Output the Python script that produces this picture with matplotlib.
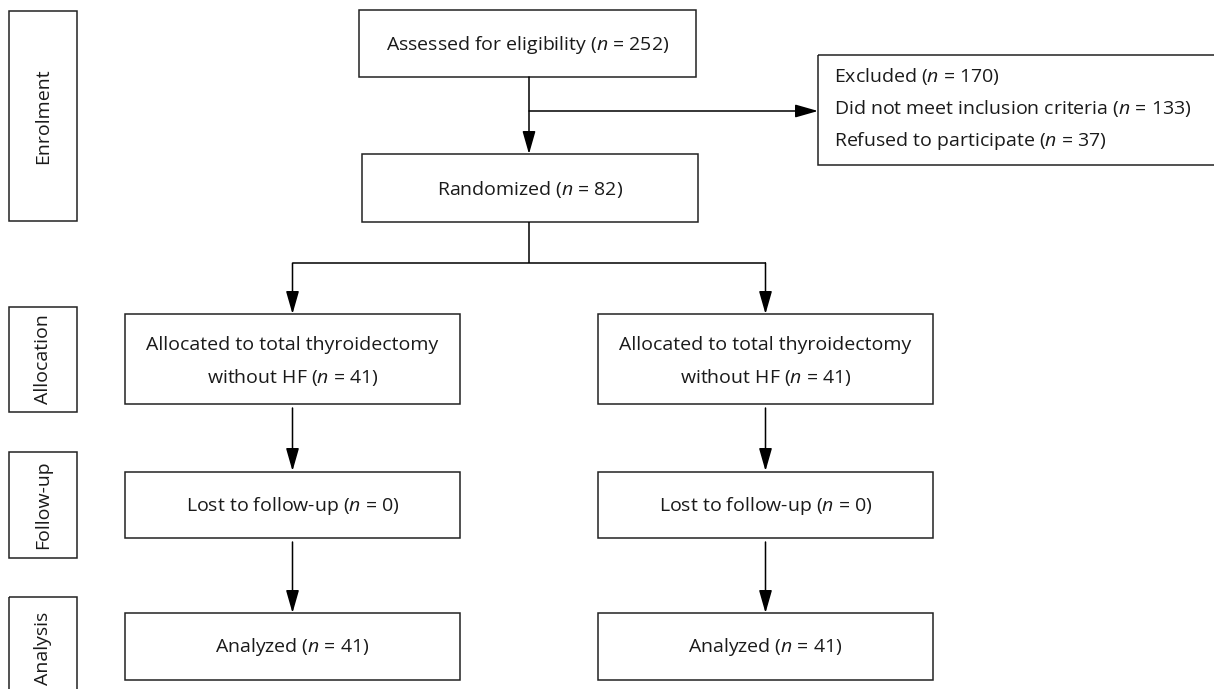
import matplotlib
matplotlib.use("Agg")
import matplotlib.pyplot as plt
from matplotlib.patches import Rectangle

plt.rcParams['font.family'] = 'Open Sans'
plt.rcParams['mathtext.fontset'] = 'custom'
plt.rcParams['mathtext.it'] = 'Open Sans:italic'
plt.rcParams['mathtext.rm'] = 'Open Sans'

# chart data
stages = ['Enrolment', 'Allocation', 'Follow-up', 'Analysis']
assessed_n = 252
excluded_n = 170
excluded_reasons = ['Did not meet inclusion criteria', 'Refused to participate']
excluded_counts = [133, 37]
randomized_n = 82
arm_labels = ['Allocated to total thyroidectomy\nwithout HF',
              'Allocated to total thyroidectomy\nwithout HF']
allocated_n = [41, 41]
lost_n = [0, 0]
analyzed_n = [41, 41]

W, H = 1214, 689
fig = plt.figure(figsize=(W / 100, H / 100), dpi=100)
ax = fig.add_axes([0, 0, 1, 1])
ax.set_xlim(0, W)
ax.set_ylim(H, 0)
ax.axis('off')

EC = '#222222'
FS = 14


def nstr(n):
    return r'($n$ = %d)' % n


def box(x0, y0, x1, y1, text=None, rot=0, ha='center', tx=None, dy=0, **kw):
    ax.add_patch(Rectangle((x0, y0), x1 - x0, y1 - y0, fill=False,
                           edgecolor=EC, lw=1.1, clip_on=False))
    if text is not None:
        cx = (x0 + x1) / 2 if tx is None else tx
        ax.text(cx, (y0 + y1) / 2 + dy, text, ha=ha, va='center', rotation=rot,
                fontsize=FS, color='#1a1a1a', **kw)


def arrow(x0, y0, x1, y1):
    ax.annotate('', xy=(x1, y1), xytext=(x0, y0),
                arrowprops=dict(arrowstyle='-|>,head_length=1.4,head_width=0.4',
                                color='black', lw=1.1, shrinkA=0, shrinkB=0))


def line(xs, ys):
    ax.plot(xs, ys, color='black', lw=1.1, solid_capstyle='butt')


# side stage labels
side_rows = [(11, 221), (307, 412), (452, 558), (597, 700)]
for lab, (y0, y1) in zip(stages, side_rows):
    box(9, y0, 77, y1, lab, rot=90)

# enrolment
box(359, 10, 696, 77, 'Assessed for eligibility ' + nstr(assessed_n), dy=1)
box(362, 154, 698, 222, 'Randomized ' + nstr(randomized_n), dy=1)
excl_text = '\n'.join(['Excluded ' + nstr(excluded_n)] +
                      [r + ' ' + nstr(c) for r, c in zip(excluded_reasons, excluded_counts)])
box(818, 55, 1240, 165, excl_text, ha='left', tx=834, dy=-1, linespacing=1.7)
arrow(529, 77, 529, 154)
arrow(529, 111, 818, 111)

# split into arms
cols = [(125, 460), (598, 933)]
centers = [(a + b) / 2 for a, b in cols]
line([529, 529], [222, 263])
line([centers[0], centers[1]], [263, 263])

for i, (x0, x1) in enumerate(cols):
    cx = centers[i]
    arrow(cx, 263, cx, 314)
    box(x0, 314, x1, 404, arm_labels[i] + ' ' + nstr(allocated_n[i]),
        dy=3, linespacing=1.75)
    arrow(cx, 408, cx, 471)
    box(x0, 472, x1, 538, 'Lost to follow-up ' + nstr(lost_n[i]), dy=1)
    arrow(cx, 542, cx, 613)
    box(x0, 613, x1, 680, 'Analyzed ' + nstr(analyzed_n[i]), dy=1)

fig.savefig('out.png', dpi=100)
